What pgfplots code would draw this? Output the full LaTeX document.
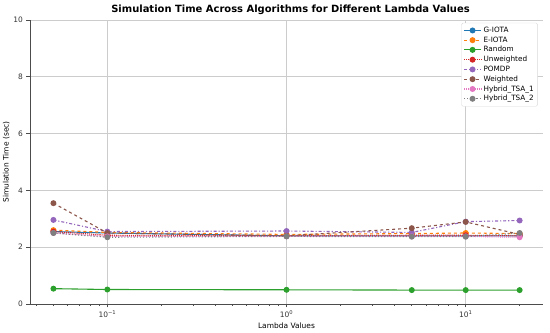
\documentclass[border=0pt]{standalone}
\usepackage{pgfplots}
\pgfplotsset{compat=1.18}
\usepackage{fontspec}
\setmainfont{DejaVu Sans}
\definecolor{c1}{HTML}{1F77B4}
\definecolor{c2}{HTML}{FF7F0E}
\definecolor{c3}{HTML}{2CA02C}
\definecolor{c4}{HTML}{D62728}
\definecolor{c5}{HTML}{9467BD}
\definecolor{c6}{HTML}{8C564B}
\definecolor{c7}{HTML}{E377C2}
\definecolor{c8}{HTML}{7F7F7F}
\begin{document}
\begin{tikzpicture}
\path[use as bounding box] (-30bp,-29bp) rectangle (520bp,304bp);
\begin{axis}[
  at={(0,0)}, anchor=south west,
  scale only axis, width=513bp, height=284bp,
  xmode=log, xmin=0.037, xmax=27.0,
  ymin=0, ymax=10,
  axis x line*=bottom, axis y line*=left,
  axis line style={draw=black!70, line width=0.8bp},
  xtick={0.1,1,10},
  xticklabels={10\textsuperscript{−1},10\textsuperscript{0},10\textsuperscript{1}},
  minor xtick={0.04,0.05,0.06,0.07,0.08,0.09,0.2,0.3,0.4,0.5,0.6,0.7,0.8,0.9,2,3,4,5,6,7,8,9,20},
  ytick={0,2,4,6,8,10},
  /pgf/number format/assume math mode=true,
  tick label style={font=\fontsize{7.5}{9}\selectfont, text=black!80},
  tick align=outside,
  major tick length=3.5bp, minor tick length=2bp,
  tick style={black!70, line width=0.6bp},
  grid=major,
  major grid style={draw=black!20, line width=0.6bp},
  xlabel={Lambda Values}, ylabel={Simulation Time (sec)},
  label style={font=\fontsize{7.5}{9}\selectfont},
  xlabel style={yshift=2bp},
  ylabel style={yshift=-3bp},
  title={\bfseries Simulation Time Across Algorithms for Different Lambda Values},
  title style={font=\fontsize{10}{12}\selectfont, yshift=-4.5bp, xshift=4bp},
  legend style={at={(0.99,0.99)}, anchor=north east, font=\fontsize{7.3}{8.5}\selectfont,
    draw=black!15, rounded corners=1.5bp, row sep=-1.2bp, inner sep=2bp},
  legend cell align=left,
  every axis plot/.append style={line width=1.1bp, mark=*, mark size=2.4bp},
]
\addplot[c1, solid, mark options={solid}] coordinates {(0.05,2.55) (0.1,2.50) (1,2.40) (5,2.40) (10,2.40) (20,2.40)};
\addlegendentry{G-IOTA}
\addplot[c2, dashed, mark options={solid}] coordinates {(0.05,2.60) (0.1,2.52) (1,2.45) (5,2.48) (10,2.50) (20,2.48)};
\addlegendentry{E-IOTA}
\addplot[c3, solid, mark options={solid}] coordinates {(0.05,0.54) (0.1,0.51) (1,0.50) (5,0.49) (10,0.49) (20,0.49)};
\addlegendentry{Random}
\addplot[c4, densely dotted, mark options={solid}] coordinates {(0.05,2.55) (0.1,2.42) (1,2.40) (5,2.42) (10,2.42) (20,2.40)};
\addlegendentry{Unweighted}
\addplot[c5, dash dot, mark options={solid}] coordinates {(0.05,2.96) (0.1,2.55) (1,2.57) (5,2.52) (10,2.90) (20,2.94)};
\addlegendentry{POMDP}
\addplot[c6, dashed, mark options={solid}] coordinates {(0.05,3.55) (0.1,2.50) (1,2.40) (5,2.67) (10,2.89) (20,2.45)};
\addlegendentry{Weighted}
\addplot[c7, densely dotted, mark options={solid}] coordinates {(0.05,2.50) (0.1,2.38) (1,2.38) (5,2.38) (10,2.38) (20,2.35)};
\addlegendentry{Hybrid\_TSA\_1}
\addplot[c8, dotted, mark options={solid}] coordinates {(0.05,2.50) (0.1,2.35) (1,2.38) (5,2.37) (10,2.37) (20,2.50)};
\addlegendentry{Hybrid\_TSA\_2}
\end{axis}
\end{tikzpicture}
\end{document}
